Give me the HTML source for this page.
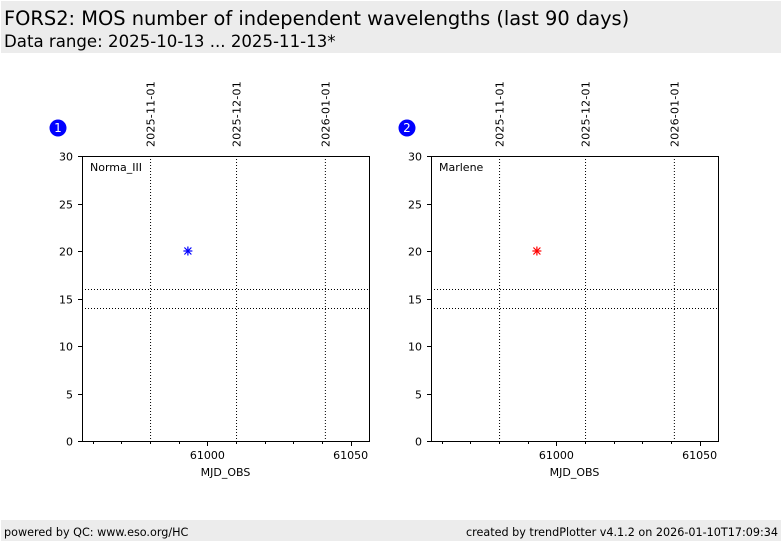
<!DOCTYPE html>
<html><head><meta charset="utf-8"><style>
body{margin:0;width:782px;height:542px;background:#fff;font-family:"DejaVu Sans","Liberation Sans",sans-serif;overflow:hidden;position:relative}
.hdr{position:absolute;left:1px;top:1px;width:780px;height:52px;background:#ececec}
.t1{position:absolute;left:3px;top:6px;font-size:19.4px;color:#000}
.t2{position:absolute;left:3px;top:31px;font-size:16.6px;color:#000}
.ftr{position:absolute;left:1px;top:520px;width:780px;height:21px;background:#ececec;font-size:11.2px}
.fl{position:absolute;left:3px;top:6px}.fr{position:absolute;right:3px;top:6px}
svg{position:absolute;left:0;top:0;font-family:"DejaVu Sans","Liberation Sans",sans-serif}
</style></head><body>
<div class="hdr">
<div class="t1">FORS2: MOS number of independent wavelengths (last 90 days)</div>
<div class="t2">Data range: 2025-10-13 ... 2025-11-13*</div></div>
<svg id="chart" width="782" height="542"></svg>
<div class="ftr"><span class="fl">powered by QC: www.eso.org/HC</span><span class="fr">created by trendPlotter v4.1.2 on 2026-01-10T17:09:34</span></div>
<script>
const panelNames=["Norma_III","Marlene"];
const panelColors=["#0000ff","#ff0000"];
const pointsMJD=[[60993.2],[60993.2]];
const pointsVal=[[20],[20]];
const dateLabels=["2025-11-01","2025-12-01","2026-01-01"];
const dateMJD=[60980,61010,61041];
const xTicks=[61000,61050];
const yTicks=[0,5,10,15,20,25,30];
const thresholds=[14,16];
const X0=60956.25,X1=61056.4,Y0=0,Y1=30;
const svg=document.getElementById('chart');const NS="http://www.w3.org/2000/svg";
function mk(t,a,p){const e=document.createElementNS(NS,t);for(const k in a)e.setAttribute(k,a[k]);(p||svg).appendChild(e);return e;}
const offs=[82,431];
offs.forEach((L,i)=>{
 const R=L+287,T=156,B=441;
 const sx=v=>L+(v-X0)/(X1-X0)*(R-L), sy=v=>B-(v-Y0)/(Y1-Y0)*(B-T);
 const g=mk('g',{});
 
 
 const c=mk('circle',{cx:L-24,cy:128,r:8.5,fill:'#0000ff'},g);
 
 
 const bt=mk('text',{x:L-24,y:132,'font-size':12,fill:'#fff','text-anchor':'middle'},g);bt.textContent=String(i+1);
 dateMJD.forEach((d,j)=>{const x=sx(d)+0.5;
  const l=mk('line',{x1:x,x2:x,y1:T,y2:B,stroke:'#000','stroke-width':1,'stroke-dasharray':'1,2'},g);
  
  
  const t=mk('text',{x:0,y:0,'font-size':11,'letter-spacing':'0.2',transform:`translate(${x+4},147) rotate(-90)`},g);t.textContent=dateLabels[j];
  
  
 });
 thresholds.forEach(v=>{const y=Math.round(sy(v))+0.5;
  const l=mk('line',{x1:L,x2:R,y1:y,y2:y,stroke:'#000','stroke-width':1,'stroke-dasharray':'1,2'},g);
  
  });
 const fr=mk('rect',{x:L+0.5,y:T+0.5,width:R-L,height:B-T,fill:'none',stroke:'#000'},g);
 
 
 yTicks.forEach(v=>{const y=Math.round(sy(v))+0.5;mk('line',{x1:L-4,x2:L,y1:y,y2:y,stroke:'#000'},g);
  const t=mk('text',{x:L-9,y:y+4,'font-size':11,'text-anchor':'end'},g);t.textContent=v;
  
  });
 for(let m=60960;m<=61050;m+=10){const x=Math.round(sx(m))+0.5;mk('line',{x1:x,x2:x,y1:B,y2:B+(xTicks.includes(m)?5:3),stroke:'#000'},g);}
 xTicks.forEach(v=>{const t=mk('text',{x:sx(v),y:B+18,'font-size':11,'text-anchor':'middle'},g);t.textContent=v;
  
  });
 const xl=mk('text',{x:(L+R)/2,y:B+35,'font-size':11,'text-anchor':'middle'},g);xl.textContent='MJD_OBS';
 
 
 const nm=mk('text',{x:L+8,y:T+15,'font-size':11},g);nm.textContent=panelNames[i];
 
 
 pointsMJD[i].forEach((m,k)=>{const x=sx(m),y=sy(pointsVal[i][k]);const col=panelColors[i];
  const pg=mk('g',{stroke:col,'stroke-width':1.2},g);
  
  
  mk('line',{x1:x-4.5,x2:x+4.5,y1:y,y2:y},pg);mk('line',{x1:x,x2:x,y1:y-4.5,y2:y+4.5},pg);
  mk('line',{x1:x-3.5,x2:x+3.5,y1:y-3.5,y2:y+3.5},pg);mk('line',{x1:x-3.5,x2:x+3.5,y1:y+3.5,y2:y-3.5},pg);});
});
</script></body></html>
